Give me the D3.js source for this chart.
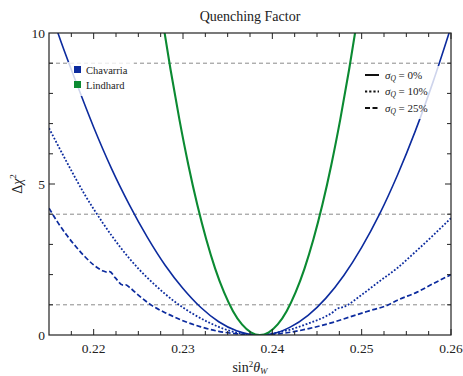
<!DOCTYPE html>
<html><head><meta charset="utf-8">
<script src="https://cdn.jsdelivr.net/npm/d3@7"></script>
<style>body{margin:0;background:#fff}svg{display:block}</style>
</head><body>
<svg id="c" width="463" height="376" font-family="'Liberation Serif', 'Times New Roman', serif"></svg>
<script>
// ---- data ----
const xTicks = [0.22, 0.23, 0.24, 0.25, 0.26];
const yTicks = [0, 5, 10];
const refLevels = [1, 4, 9];
const chavSolidX = [0.2150,0.2160,0.2180,0.2200,0.2220,0.2240,0.2260,0.2280,0.2300,0.2320,0.2340,0.2360,0.2386,0.2400,0.2420,0.2440,0.2460,0.2480,0.2500,0.2520,0.2540,0.2560,0.2580,0.2600];
const chavSolidY = [10.9,10.0,8.4,6.88,5.51,4.31,3.24,2.31,1.54,0.91,0.44,0.14,0.0,0.04,0.26,0.65,1.22,1.97,2.90,4.00,5.29,6.75,8.39,10.2];
const chav10X = [0.2150,0.2170,0.2190,0.2210,0.2230,0.2250,0.2270,0.2290,0.2310,0.2330,0.2350,0.2370,0.2386,0.2400,0.2420,0.2440,0.2460,0.2468,0.2472,0.2480,0.2500,0.2520,0.2540,0.2560,0.2580,0.2600];
const chav10Y = [6.85,5.72,4.65,3.72,2.90,2.20,1.62,1.12,0.72,0.40,0.16,0.03,0.0,0.05,0.18,0.38,0.62,0.76,0.86,0.93,1.33,1.78,2.22,2.75,3.30,3.87];
const chav25X = [0.2150,0.2160,0.2170,0.2180,0.2190,0.2200,0.2210,0.2215,0.2218,0.2224,0.2233,0.2236,0.2240,0.2250,0.2265,0.2280,0.2300,0.2320,0.2340,0.2360,0.2386,0.2405,0.2420,0.2442,0.2468,0.2487,0.2506,0.2530,0.2540,0.2562,0.2580,0.2600];
const chav25Y = [4.2,3.72,3.30,2.93,2.60,2.32,2.13,2.08,2.10,1.90,1.65,1.66,1.58,1.32,0.98,0.74,0.47,0.27,0.12,0.04,0.0,0.03,0.09,0.22,0.42,0.60,0.78,1.00,1.15,1.42,1.70,2.0];
const lindX = [0.2270,0.2278,0.2286,0.2296,0.2306,0.2316,0.2326,0.2336,0.2346,0.2356,0.2366,0.2376,0.2386,0.2396,0.2406,0.2416,0.2426,0.2436,0.2446,0.2456,0.2466,0.2476,0.2486,0.2494,0.2502];
const lindY = [11.8,10.26,8.8,7.13,5.63,4.31,3.17,2.2,1.41,0.79,0.35,0.09,0.0,0.09,0.35,0.79,1.41,2.2,3.17,4.31,5.63,7.13,8.8,10.26,11.8];
const seriesNames = ["Chavarria", "Lindhard"];
const sigmaLabels = ["0%", "10%", "25%"];

// ---- layout ----
const W = 463, H = 376;
const m = {l: 49, r: 12, t: 33, b: 41};
const svg = d3.select("#c");
const x = d3.scaleLinear().domain([0.215, 0.26]).range([m.l, W - m.r]);
const y = d3.scaleLinear().domain([0, 10]).range([H - m.b, m.t]);
const blue = "#0c2b9e", green = "#0b8a32";
const txt = "#222";

svg.append("defs").append("clipPath").attr("id","clip")
  .append("rect").attr("x", m.l).attr("y", m.t).attr("width", W-m.l-m.r).attr("height", H-m.t-m.b);

// reference dashed levels
svg.append("g").selectAll("line").data(refLevels).join("line")
  .attr("x1", m.l).attr("x2", W-m.r).attr("y1", d=>y(d)).attr("y2", d=>y(d))
  .attr("stroke", "#8a8a8a").attr("stroke-width", 1).attr("stroke-dasharray", "4,3");

const line = d3.line().x(d=>x(d[0])).y(d=>y(d[1])).curve(d3.curveMonotoneX);
const zip = (a,b)=>a.map((v,i)=>[v,b[i]]);
const g = svg.append("g").attr("clip-path","url(#clip)");
const curves = [
  {d: zip(chav25X, chav25Y), c: blue, dash: "5,2.5", w: 1.7},
  {d: zip(chav10X, chav10Y), c: blue, dash: "1.8,1.8", w: 1.8},
  {d: zip(chavSolidX, chavSolidY), c: blue, dash: null, w: 1.6},
  {d: zip(lindX, lindY), c: green, dash: null, w: 2.1}
];
curves.forEach(s => {
  g.append("path").attr("d", line(s.d)).attr("fill","none")
   .attr("stroke", s.c).attr("stroke-width", s.w)
   .attr("stroke-dasharray", s.dash);
});

// axes frame with inward ticks
const axG = svg.append("g").attr("stroke","#222").attr("fill","none");
axG.append("rect").attr("x", m.l).attr("y", m.t).attr("width", W-m.l-m.r).attr("height", H-m.t-m.b).attr("stroke-width",1.2);
const xMinor = d3.range(0.2175, 0.26, 0.0025);
const yMinor = d3.range(1, 10, 1);
xMinor.forEach(v => {
  const major = xTicks.some(t => Math.abs(t - v) < 1e-6);
  const L = major ? 6 : 4;
  axG.append("line").attr("x1", x(v)).attr("x2", x(v)).attr("y1", H-m.b).attr("y2", H-m.b-L).attr("stroke-width",1);
  axG.append("line").attr("x1", x(v)).attr("x2", x(v)).attr("y1", m.t).attr("y2", m.t+L).attr("stroke-width",1);
});
yMinor.forEach(v => {
  const major = yTicks.includes(v);
  const L = major ? 6 : 4;
  axG.append("line").attr("x1", m.l).attr("x2", m.l+L).attr("y1", y(v)).attr("y2", y(v)).attr("stroke-width",1);
  axG.append("line").attr("x1", W-m.r).attr("x2", W-m.r-L).attr("y1", y(v)).attr("y2", y(v)).attr("stroke-width",1);
});

// tick labels
svg.append("g").attr("fill", txt).selectAll("text").data(xTicks).join("text")
  .attr("x", d=>x(d)).attr("y", H-m.b+18).attr("text-anchor","middle")
  .attr("font-size", 13.5).text(d=>d.toFixed(2));
svg.append("g").attr("fill", txt).selectAll("text").data(yTicks).join("text")
  .attr("x", m.l-4).attr("y", d=>y(d)+4.5).attr("text-anchor","end")
  .attr("font-size", 13.5).text(d=>d);

// title and axis labels
svg.append("text").attr("fill", txt).attr("x", (m.l+W-m.r)/2).attr("y", 21).attr("text-anchor","middle")
  .attr("font-size", 14).text("Quenching Factor");
const xl = svg.append("text").attr("fill", txt).attr("x", (m.l+W-m.r)/2).attr("y", 372).attr("text-anchor","middle").attr("font-size", 14);
xl.append("tspan").text("sin");
xl.append("tspan").attr("font-size", 9).attr("dy", -5).text("2");
xl.append("tspan").attr("dy", 5).attr("font-style","italic").text("θ");
xl.append("tspan").attr("font-style","italic").attr("font-size", 9).attr("dy", 2).text("W");
const yl = svg.append("text").attr("fill", txt).attr("transform", `translate(22,${(m.t+H-m.b)/2}) rotate(-90)`)
  .attr("text-anchor","middle").attr("font-size", 14);
yl.append("tspan").text("Δ");
yl.append("tspan").attr("font-style","italic").text("χ");
yl.append("tspan").attr("font-size", 9).attr("dy", -6).text("2");

// legend 1: colours
svg.append("rect").attr("x", 68).attr("y", 62).attr("width", 66).attr("height", 34).attr("fill","#fff").attr("opacity",0.8);
const leg1 = svg.append("g").attr("fill", txt);
[blue, green].forEach((c,i) => {
  leg1.append("rect").attr("x", 74).attr("y", 66 + i*15).attr("width", 7).attr("height", 7).attr("fill", c);
  leg1.append("text").attr("x", 86).attr("y", 73.5 + i*15).attr("font-size", 10.5).text(seriesNames[i]);
});

// legend 2: line styles
svg.append("rect").attr("x", 358).attr("y", 66).attr("width", 88).attr("height", 53).attr("fill","#fff").attr("opacity",0.8);
const dashes = [null, "2.2,2", "5,2.5"];
const leg2 = svg.append("g").attr("fill", txt);
sigmaLabels.forEach((lab,i) => {
  const yy = 75 + i*16.5;
  leg2.append("line").attr("x1", 365).attr("x2", 379).attr("y1", yy).attr("y2", yy)
    .attr("stroke","#111").attr("stroke-width", 2).attr("stroke-dasharray", dashes[i]);
  const t = leg2.append("text").attr("x", 385).attr("y", yy+3.5).attr("font-size", 11);
  t.append("tspan").attr("font-style","italic").text("σ");
  t.append("tspan").attr("font-style","italic").attr("font-size", 7.5).attr("dy", 2).text("Q");
  t.append("tspan").attr("dy", -2).text(" = " + lab);
});
</script>
</body></html>
